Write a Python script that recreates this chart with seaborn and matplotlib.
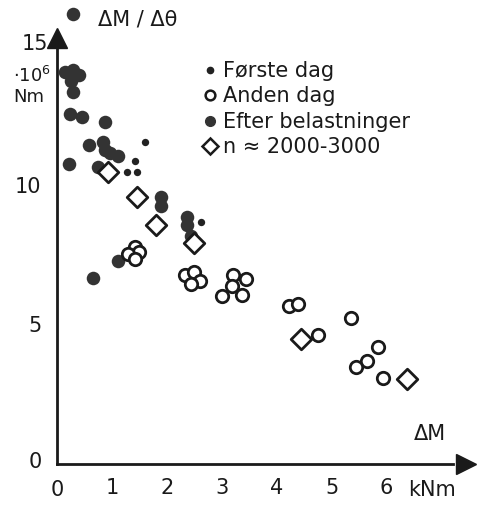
import pandas as pd
import matplotlib.pyplot as plt
import seaborn as sns

sns.set_style("white")
plt.rcParams["font.family"] = ["DejaVu Sans"]

# Første dag (small dots)
forste_x = [1.60, 1.42, 1.27, 1.45, 2.63]
forste_y = [11.6, 10.9, 10.5, 10.5, 8.7]

# Anden dag (open circles)
anden_x = [1.42, 1.50, 1.30, 1.42, 2.33, 2.50, 2.60, 2.45, 3.20, 3.44, 3.18,
           3.36, 3.00, 4.22, 4.38, 4.76, 5.36, 5.84, 5.65, 5.44, 5.93]
anden_y = [7.8, 7.65, 7.55, 7.4, 6.8, 6.9, 6.6, 6.5, 6.8, 6.65, 6.4,
           6.1, 6.05, 5.7, 5.75, 4.65, 5.25, 4.2, 3.7, 3.5, 3.1]

# Efter belastninger (large filled dots)
efter_x = [0.29, 0.15, 0.30, 0.40, 0.25, 0.29, 0.24, 0.45, 0.87, 0.58, 0.84,
           0.87, 0.96, 1.11, 0.22, 0.75, 1.90, 1.90, 2.36, 2.36, 2.45, 1.11,
           0.66, 1.40]
efter_y = [16.2, 14.1, 14.2, 14.0, 13.8, 13.4, 12.6, 12.5, 12.3, 11.5, 11.6,
           11.3, 11.2, 11.1, 10.8, 10.7, 9.6, 9.3, 8.9, 8.6, 8.2, 7.3,
           6.7, 7.6]

# n = 2000-3000 (open diamonds)
n_x = [0.93, 1.45, 1.80, 2.49, 4.45, 6.38]
n_y = [10.5, 9.6, 8.6, 7.95, 4.5, 3.05]

x_ticks = [1, 2, 3, 4, 5, 6]
y_ticks = [5, 10, 15]

ink = "#1a1a1a"

fig = plt.figure(figsize=(4.82, 5.06), dpi=100)
ax = fig.add_axes([0.118, 0.081, 0.855, 0.911])

sns.scatterplot(x=forste_x, y=forste_y, ax=ax, s=28, color="#222222",
                edgecolor="#222222", linewidth=0, zorder=3)
sns.scatterplot(x=efter_x, y=efter_y, ax=ax, s=95, color="#333333",
                edgecolor="#333333", linewidth=0, zorder=3)
sns.scatterplot(x=anden_x, y=anden_y, ax=ax, s=80, facecolor="white",
                edgecolor=ink, linewidth=2, zorder=4)
sns.scatterplot(x=n_x, y=n_y, ax=ax, s=110, marker="D", facecolor="white",
                edgecolor=ink, linewidth=2, zorder=4)

ax.set_xlim(0, 7.5)
ax.set_ylim(0, 16.6)
for side in ["top", "right"]:
    ax.spines[side].set_visible(False)
ax.spines["left"].set_bounds(0, 15.1)
ax.spines["bottom"].set_bounds(0, 7.2)
for side in ["left", "bottom"]:
    ax.spines[side].set_linewidth(2)
    ax.spines[side].set_color(ink)
ax.plot(7.45, 0, marker=">", color=ink, markersize=14, clip_on=False)
ax.plot(0, 15.35, marker="^", color=ink, markersize=14, clip_on=False)

ax.set_xticks(x_ticks)
ax.set_yticks(y_ticks)
ax.tick_params(direction="inout", length=7, width=1.5, color=ink,
               labelsize=15, labelcolor=ink)
ax.tick_params(axis="y", labelleft=False)
ax.tick_params(axis="x", pad=6)

# y tick labels placed by hand, as in the drawing
ax.text(-0.4, 15.15, "15", fontsize=15, ha="center", va="center", color=ink)
ax.text(-0.53, 10.0, "10", fontsize=15, ha="center", va="center", color=ink)
ax.text(-0.4, 5.0, "5", fontsize=15, ha="center", va="center", color=ink)
ax.text(-0.4, 0.1, "0", fontsize=15, ha="center", va="center", color=ink)
ax.text(0, -0.9, "0", fontsize=15, ha="center", va="center", color=ink)
ax.text(6.4, -0.9, "kNm", fontsize=15, ha="left", va="center", color=ink)
ax.text(6.78, 1.1, "ΔM", fontsize=15, ha="center", va="center", color=ink)
ax.text(0.75, 16.05, "ΔM / Δθ", fontsize=15, ha="left", va="center", color=ink)
ax.text(-0.8, 13.65, "·10$^6$\nNm", fontsize=13, ha="left", va="center",
        color=ink, linespacing=1.15)

# legend
leg_y = [14.2, 13.3, 12.35, 11.45]
leg_labels = ["Første dag", "Anden dag", "Efter belastninger", "n ≈ 2000-3000"]
ax.plot(2.78, leg_y[0], "o", color="#222222", markersize=4.5)
ax.plot(2.78, leg_y[1], "o", mfc="white", mec=ink, mew=1.8, markersize=7)
ax.plot(2.78, leg_y[2], "o", color="#333333", markersize=7)
ax.plot(2.78, leg_y[3], "D", mfc="white", mec=ink, mew=1.8, markersize=8)
for yy, lab in zip(leg_y, leg_labels):
    ax.text(3.02, yy, lab, fontsize=15, ha="left", va="center", color=ink)

fig.savefig("out.png", dpi=100)
